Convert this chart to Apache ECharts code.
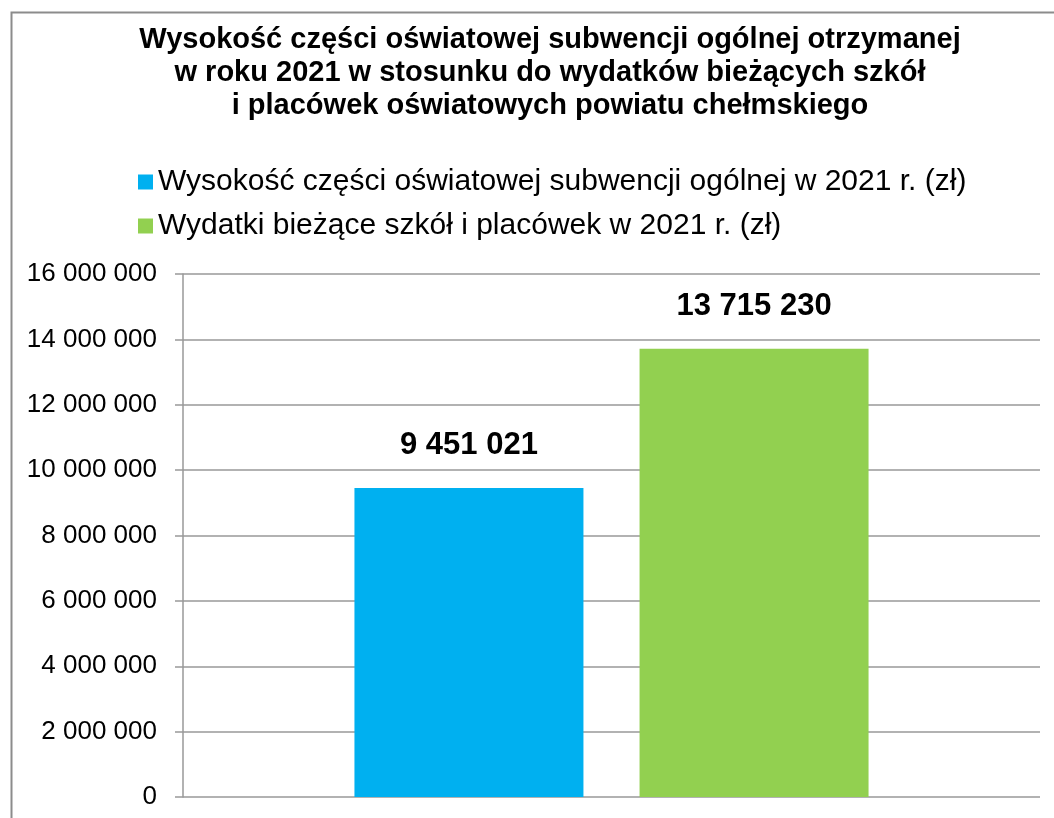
<!DOCTYPE html>
<html lang="pl">
<head>
    <meta charset="UTF-8">
    <title>Subwencja oświatowa 2021</title>
    <script src="https://cdn.jsdelivr.net/npm/echarts@6.0.0/dist/echarts.min.js"></script>
</head>
<body style="margin: 0; background-color: white;">
<div id="chart" style="width: 1054px; height: 818px;"></div>

<script>
    // dane z wykresu
    const categories = [''];
    const seriesNames = [
        'Wysokość części oświatowej subwencji ogólnej w 2021 r. (zł)',
        'Wydatki bieżące szkół i placówek w 2021 r. (zł)'
    ];
    const subwencja = [9451021];
    const wydatki = [13715230];
    const seriesColors = ['#00B0F0', '#92D050'];

    // 16 000 000 -> "16 000 000"
    function fmt(v) {
        return String(v).replace(/\B(?=(\d{3})+(?!\d))/g, ' ');
    }

    const myChart = echarts.init(document.getElementById('chart'));

    const labelStyle = {
        show: true,
        position: 'top',
        distance: 27,
        fontFamily: 'Liberation Sans, Arial, sans-serif',
        fontSize: 31,
        fontWeight: 'bold',
        color: '#000',
        formatter: p => fmt(p.value)
    };

    const option = {
        animation: false,
        textStyle: { fontFamily: 'Liberation Sans, Arial, sans-serif' },
        graphic: [{
            type: 'rect',
            left: 9,
            top: 10,
            shape: { width: 1100, height: 900 },
            style: { fill: 'none', stroke: '#8c8c8c', lineWidth: 2 },
            silent: true
        }],
        title: {
            text: 'Wysokość części oświatowej subwencji ogólnej otrzymanej\nw roku 2021 w stosunku do wydatków bieżących szkół\ni placówek oświatowych powiatu chełmskiego',
            left: 545,
            top: 18,
            textAlign: 'center',
            textStyle: {
                fontSize: 29,
                fontWeight: 'bold',
                color: '#000',
                lineHeight: 33
            }
        },
        legend: {
            orient: 'vertical',
            left: 133,
            top: 162,
            itemWidth: 15,
            itemHeight: 15,
            itemGap: 14,
            icon: 'rect',
            data: seriesNames,
            textStyle: { fontSize: 30, color: '#000' }
        },
        grid: {
            left: 183,
            right: 14,
            top: 274,
            bottom: 21,
            containLabel: false
        },
        xAxis: {
            type: 'category',
            data: categories,
            axisLine: { show: false },
            axisTick: { show: false },
            axisLabel: { show: false }
        },
        yAxis: {
            type: 'value',
            min: 0,
            max: 16000000,
            interval: 2000000,
            axisLine: { show: true, lineStyle: { color: '#999', width: 1.5 } },
            axisTick: { show: true, length: 8, lineStyle: { color: '#999', width: 1.5 } },
            axisLabel: {
                fontSize: 26,
                color: '#000',
                margin: 26,
                formatter: v => fmt(v)
            },
            splitLine: { show: true, lineStyle: { color: '#999', width: 1.5 } }
        },
        series: [
            {
                name: seriesNames[0],
                type: 'bar',
                data: subwencja,
                barWidth: 229,
                barGap: '24.5%',
                itemStyle: { color: seriesColors[0] },
                label: labelStyle
            },
            {
                name: seriesNames[1],
                type: 'bar',
                data: wydatki,
                barWidth: 229,
                itemStyle: { color: seriesColors[1] },
                label: labelStyle
            }
        ]
    };

    myChart.setOption(option);
</script>
</body>
</html>
